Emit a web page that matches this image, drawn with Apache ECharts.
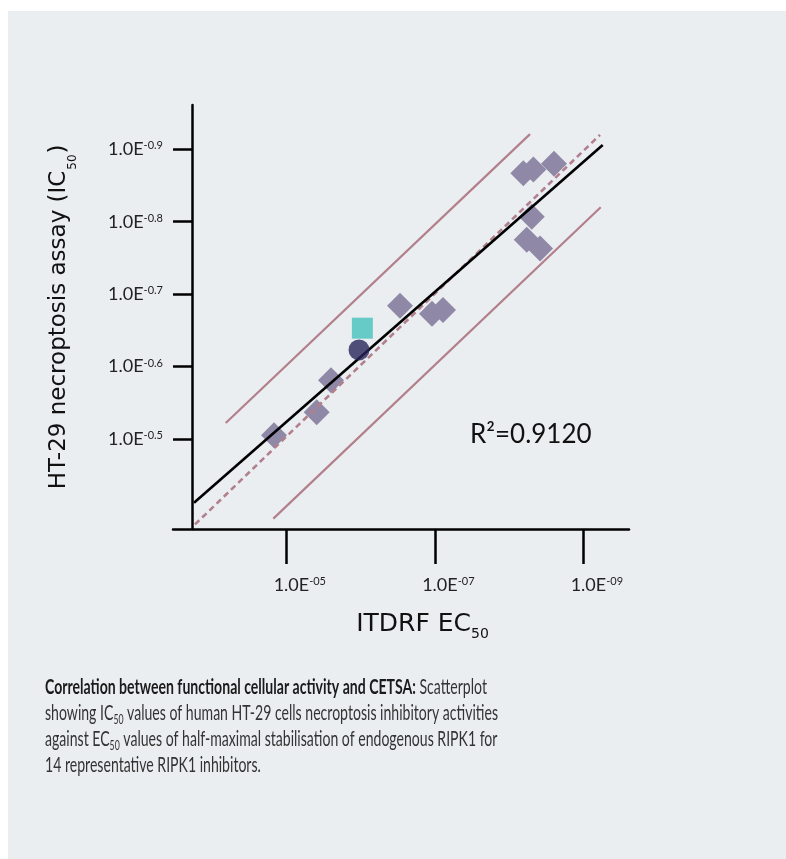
<!DOCTYPE html>
<html><head><meta charset="utf-8">
<script src="https://cdn.jsdelivr.net/npm/echarts@6/dist/echarts.min.js"></script>
<style>
html,body{margin:0;padding:0;background:#fff}
#bg{position:absolute;left:8px;top:11px;width:778px;height:848px;background:#ebeef1}
#c{position:absolute;left:0;top:0;width:786px;height:859px}
</style>
</head><body><div id="bg"></div><div id="c"></div>
<script>
// x: exponent of ITDRF EC50 (1.0E-0x), y: exponent of IC50 (1.0E-0.y)
const diamondX = [4.834, 5.409, 5.602, 6.531, 6.962, 7.110, 8.192, 8.327, 8.605, 8.305, 8.238, 8.417];
const diamondY = [0.505, 0.537, 0.581, 0.684, 0.673, 0.678, 0.867, 0.872, 0.880, 0.807, 0.775, 0.763];
const squareX = [6.024];
const squareY = [0.653];
const circleX = [5.979];
const circleY = [0.623];
const fitLineX = [3.757, 9.261];
const fitLineY = [0.412, 0.906];
const identityX = [3.770, 9.225];
const identityY = [0.382, 0.920];
const upperX = [4.184, 8.282];
const upperY = [0.522, 0.921];
const lowerX = [4.825, 9.234];
const lowerY = [0.390, 0.820];
const xTicks = [5, 7, 9];
const yTicks = [0.5, 0.6, 0.7, 0.8, 0.9];
const r2Text = 'R\u00b2=0.9120';
const xName = ['ITDRF EC', '50'];
const yName = ['HT-29 necroptosis assay (IC', '50', ')'];
const captionBold = 'Correlation between functional cellular activity and CETSA:';

const zip = (xs, ys) => xs.map((x, i) => [x, ys[i]]);
const FF = 'Lato';
const NF = 'DejaVu Sans';
const TXT = '#222';
const PINK = '#b2808c';

// caption horizontal condensation
const mctx = document.createElement('canvas').getContext('2d');
mctx.font = '21px ' + FF;
let w2 = mctx.measureText('showing IC values of human HT-29 cells necroptosis inhibitory activities').width;
mctx.font = '13px ' + FF;
w2 += mctx.measureText('50').width;
const capScale = 453 / w2;

const chart = echarts.init(document.getElementById('c'), null, {renderer: 'canvas'});
chart.setOption({
  animation: false,
  grid: {left: 173, right: 157, top: 105, bottom: 330},
  xAxis: {
    type: 'value', min: 3.474, max: 9.615,
    splitLine: {show: false},
    axisLine: {show: true, lineStyle: {color: '#000', width: 2.5}},
    axisTick: {show: true, length: 35, customValues: xTicks, lineStyle: {color: '#000', width: 2.5}},
    axisLabel: {
      customValues: xTicks, margin: 47, padding: [0, 0, 0, 27],
      formatter: v => '{a|1.0E}{b|-0' + v + '}',
      rich: {
        a: {fontFamily: FF, fontSize: 18, lineHeight: 18, color: TXT},
        b: {fontFamily: FF, fontSize: 11, lineHeight: 11, verticalAlign: 'top', color: TXT}
      }
    },
    name: '{m|' + xName[0] + '}{s|' + xName[1] + '}',
    nameLocation: 'middle', nameGap: 78,
    nameTextStyle: {
      padding: [0, 0, 0, 43],
      rich: {
        m: {fontFamily: NF, fontSize: 25, lineHeight: 34, color: '#111'},
        s: {fontFamily: NF, fontSize: 14, lineHeight: 12, verticalAlign: 'bottom', color: '#111'}
      }
    }
  },
  yAxis: {
    type: 'value', min: 0.3757, max: 0.9612, offset: -19,
    splitLine: {show: false},
    axisLine: {show: true, lineStyle: {color: '#000', width: 2.5}},
    axisTick: {show: true, length: 19, customValues: yTicks, lineStyle: {color: '#000', width: 2.5}},
    axisLabel: {
      customValues: yTicks, margin: 29,
      formatter: v => '{a|1.0E}{b|-' + v.toFixed(1) + '}',
      rich: {
        a: {fontFamily: FF, fontSize: 18, lineHeight: 18, color: TXT},
        b: {fontFamily: FF, fontSize: 11, lineHeight: 11, verticalAlign: 'top', color: TXT}
      }
    },
    name: '{m|' + yName[0] + '}{s|' + yName[1] + '}{m|' + yName[2] + '}',
    nameLocation: 'middle', nameRotate: 90, nameGap: 113,
    nameTextStyle: {
      rich: {
        m: {fontFamily: NF, fontSize: 23, lineHeight: 40, color: '#111'},
        s: {fontFamily: NF, fontSize: 12, lineHeight: 10, width: 17, align: 'right', verticalAlign: 'bottom', color: '#111'}
      }
    }
  },
  series: [
    {type: 'scatter', data: zip(diamondX, diamondY), symbol: 'diamond', symbolSize: 26,
     itemStyle: {color: '#8f88a6', opacity: 1}, z: 2, silent: true},
    {type: 'line', data: zip(upperX, upperY), symbol: 'none', lineStyle: {color: PINK, width: 2.2}, z: 3, silent: true},
    {type: 'line', data: zip(lowerX, lowerY), symbol: 'none', lineStyle: {color: PINK, width: 2.2}, z: 3, silent: true},
    {type: 'line', data: zip(identityX, identityY), symbol: 'none', lineStyle: {color: PINK, width: 2.6, type: [6, 4]}, z: 3, silent: true},
    {type: 'line', data: zip(fitLineX, fitLineY), symbol: 'none', lineStyle: {color: '#000', width: 2.6}, z: 3, silent: true},
    {type: 'scatter', data: zip(squareX, squareY), symbol: 'rect', symbolSize: 21,
     itemStyle: {color: '#45c2bc'}, z: 4, silent: true},
    {type: 'scatter', data: zip(circleX, circleY), symbol: 'circle', symbolSize: 21,
     itemStyle: {color: '#28255a'}, z: 4, silent: true}
  ],
  graphic: [
    {type: 'text', x: 470, y: 435, silent: true,
     style: {text: r2Text, fontFamily: FF, fontSize: 26, fill: '#111', verticalAlign: 'middle', align: 'left'}},
    {type: 'text', x: 45, y: 674, scaleX: capScale, silent: true,
     style: {
       text: '{b|' + captionBold + '}{n| Scatterplot}\n' +
             '{n|showing IC}{s|50}{n| values of human HT-29 cells necroptosis inhibitory activities}\n' +
             '{n|against EC}{s|50}{n| values of half-maximal stabilisation of endogenous RIPK1 for}\n' +
             '{n|14 representative RIPK1 inhibitors.}',
       fill: TXT, fontFamily: FF, fontSize: 21, lineHeight: 26,
       rich: {
         b: {fontFamily: FF, fontSize: 21, fontWeight: 'bold', lineHeight: 26, fill: '#1a1a1a'},
         n: {fontFamily: FF, fontSize: 21, fontWeight: 'normal', lineHeight: 26, fill: '#333'},
         s: {fontFamily: FF, fontSize: 13, fontWeight: 'normal', lineHeight: 11, verticalAlign: 'bottom', fill: '#333'}
       }
     }}
  ]
});
</script>
</body></html>
